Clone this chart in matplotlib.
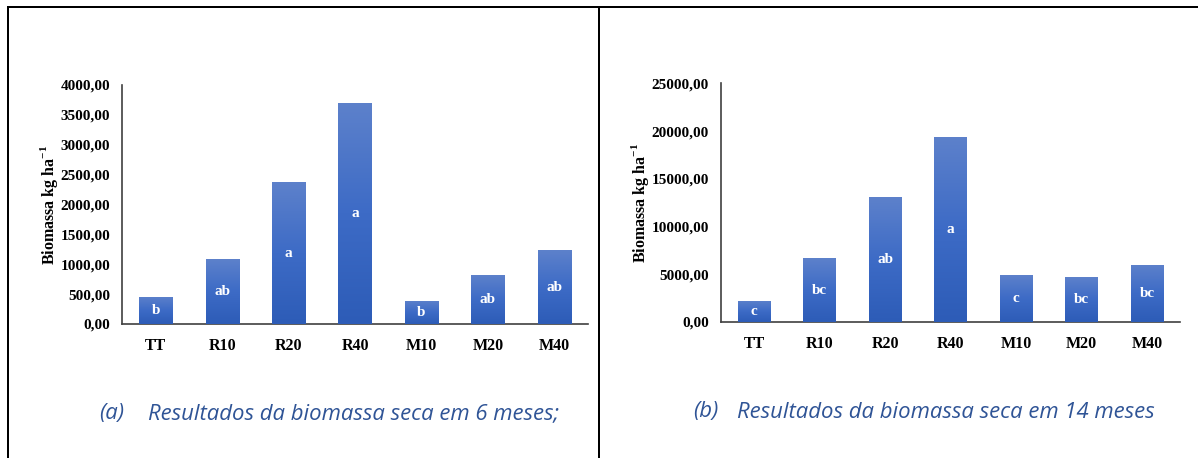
import numpy as np
import matplotlib
matplotlib.use("Agg")
import matplotlib.pyplot as plt
from matplotlib.lines import Line2D
from matplotlib.colors import LinearSegmentedColormap

# ---- data ----
categories = ["TT", "R10", "R20", "R40", "M10", "M20", "M40"]
values_6m = [454, 1087, 2375, 3703, 387, 818, 1232]
letters_6m = ["b", "ab", "a", "a", "b", "ab", "ab"]
values_14m = [2200, 6700, 13090, 19410, 4920, 4710, 6000]
letters_14m = ["c", "bc", "ab", "a", "c", "bc", "bc"]
yticks_6m = [0, 500, 1000, 1500, 2000, 2500, 3000, 3500, 4000]
yticks_14m = [0, 5000, 10000, 15000, 20000, 25000]
ylabel = "Biomassa kg ha$^{\\mathregular{-1}}$"
caption_a = ("(a)", "Resultados da biomassa seca em 6 meses;")
caption_b = ("(b)", "Resultados da biomassa seca em 14 meses")

W, H = 1198, 458
fig = plt.figure(figsize=(W / 100, H / 100), dpi=100)
fig.patch.set_facecolor("white")

serif = ["Liberation Serif", "DejaVu Serif"]
cmap = LinearSegmentedColormap.from_list("g", ["#2D5CB7", "#3D6BC6", "#5D81CB"])
caption_color = "#2F5496"


def px(x, y):
    return x / W, 1 - y / H


def draw_panel(rect, values, letters, yticks, lab_x):
    ax = fig.add_axes(rect)
    x = np.arange(len(categories))
    bars = ax.bar(x, values, width=0.5, color="#3A67C2", zorder=2)
    ymax = yticks[-1]
    grad = np.linspace(0, 1, 256).reshape(-1, 1)
    for b in bars:
        x0, w, h = b.get_x(), b.get_width(), b.get_height()
        im = ax.imshow(grad, extent=[x0, x0 + w, 0, h], origin="lower",
                       aspect="auto", cmap=cmap, zorder=3)
        im.set_clip_path(b)
    for xi, v, l in zip(x, values, letters):
        ax.text(xi, v / 2, l, ha="center", va="center", color="white",
                fontsize=11, fontweight="bold", family=serif, zorder=4)
    ax.set_xlim(-0.5, 6.5)
    ax.set_ylim(0, ymax)
    ax.set_xticks(x)
    ax.set_xticklabels(categories, fontsize=11.5, fontweight="bold", family=serif)
    ax.set_yticks(yticks)
    ax.set_yticklabels([f"{t:.2f}".replace(".", ",") for t in yticks],
                       fontsize=11, fontweight="bold", family=serif)
    ax.tick_params(axis="y", length=0, pad=9)
    ax.tick_params(axis="x", length=0, pad=10)
    for s in ["top", "right"]:
        ax.spines[s].set_visible(False)
    for s in ["left", "bottom"]:
        ax.spines[s].set_color("#404040")
        ax.spines[s].set_linewidth(1.2)
    ax.set_ylabel(ylabel, fontsize=11.5, fontweight="bold", family=serif)
    ax.yaxis.set_label_coords(lab_x, 0.5)
    ax.set_facecolor("none")
    return ax


draw_panel([122.5 / W, (H - 324) / H, 465 / W, 239 / H],
           values_6m, letters_6m, yticks_6m, -0.134)
draw_panel([721.3 / W, (H - 322) / H, 458.4 / W, 238.7 / H],
           values_14m, letters_14m, yticks_14m, -0.153)

# captions
cap_font = dict(fontsize=15.9, style="italic", color=caption_color,
                family=["Open Sans", "DejaVu Sans"], va="baseline", ha="left")
fig.text(*px(98.7, 419), caption_a[0], **cap_font)
fig.text(*px(148, 419), caption_a[1], **cap_font)
fig.text(*px(692.7, 417.5), caption_b[0], **cap_font)
fig.text(*px(737.3, 417.5), caption_b[1], **cap_font)

# borders
lw = 2.0
for (xa, ya), (xb, yb) in [((7.5, 7), (W, 7)), ((7.5, 7), (7.5, H)),
                           ((599, 7), (599, H))]:
    fig.add_artist(Line2D([xa / W, xb / W], [1 - ya / H, 1 - yb / H],
                          color="black", linewidth=lw * 0.72,
                          transform=fig.transFigure))

fig.savefig("out.png", dpi=100)
